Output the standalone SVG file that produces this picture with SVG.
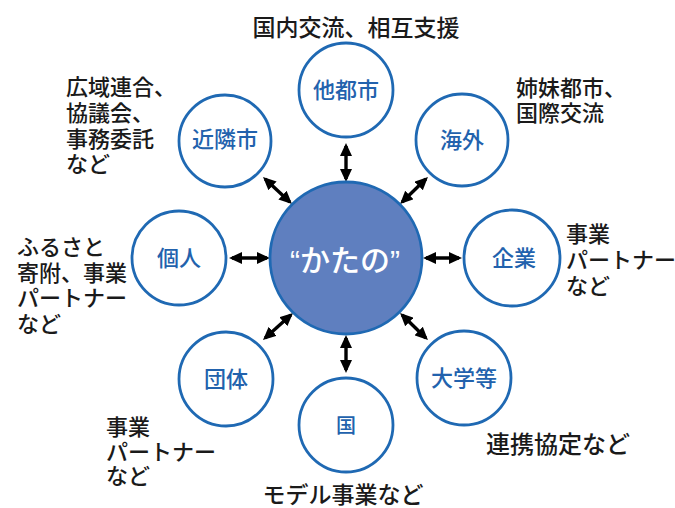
<svg xmlns="http://www.w3.org/2000/svg" width="675" height="508" viewBox="0 0 675 508">
<defs>
<style>
.node{fill:#ffffff;stroke:#1f69b3;stroke-width:2.8}
.hub{fill:#5f7fbf;stroke:#1f69b3;stroke-width:2.8}
.nl{font-family:"Noto Sans CJK JP",sans-serif;font-size:22px;font-weight:500;fill:#2262ad;text-anchor:middle}
.hl{font-family:"Liberation Sans","Noto Sans CJK JP",sans-serif;font-size:30px;font-weight:500;fill:#ffffff;text-anchor:middle}
.ext{font-family:"Liberation Sans","Noto Sans CJK JP",sans-serif;font-size:22px;font-weight:500;fill:#1a1a1a}
.arr{stroke:#000000;stroke-width:3.4;fill:none;marker-start:url(#ah);marker-end:url(#ah)}
</style>
<marker id="ah" markerUnits="userSpaceOnUse" markerWidth="13" markerHeight="12" refX="10" refY="6" orient="auto-start-reverse">
<path d="M0,0 L13,6 L0,12 Z" fill="#000000"/>
</marker>
</defs>
<rect width="675" height="508" fill="#ffffff"/>
<g id="connectors">
<line class="arr" x1="346" y1="146" x2="346" y2="179"/>
<line class="arr" x1="346" y1="338" x2="346" y2="370"/>
<line class="arr" x1="232" y1="258" x2="267" y2="258"/>
<line class="arr" x1="426" y1="258" x2="459" y2="258"/>
<line class="arr" x1="265.2" y1="179" x2="289.8" y2="202"/>
<line class="arr" x1="425.8" y1="179" x2="402.2" y2="202"/>
<line class="arr" x1="290.8" y1="315" x2="265.2" y2="338"/>
<line class="arr" x1="402.2" y1="315" x2="425.8" y2="338"/>
</g>
<g id="hub">
<circle class="hub" cx="346" cy="258" r="76"/>
<text class="hl" x="345" y="271">“かたの”</text>
</g>
<g id="n-tatoshi">
<circle class="node" cx="346" cy="90" r="47"/>
<text class="nl" x="346" y="98">他都市</text>
</g>
<g id="n-kaigai">
<circle class="node" cx="462" cy="140" r="46"/>
<text class="nl" x="462" y="148">海外</text>
</g>
<g id="n-kinrin">
<circle class="node" cx="225" cy="141" r="46"/>
<text class="nl" x="225" y="147">近隣市</text>
</g>
<g id="n-kojin">
<circle class="node" cx="179" cy="258" r="47"/>
<text class="nl" x="179" y="266">個人</text>
</g>
<g id="n-kigyo">
<circle class="node" cx="512" cy="258" r="48"/>
<text class="nl" x="514" y="266">企業</text>
</g>
<g id="n-dantai">
<circle class="node" cx="226" cy="379" r="47"/>
<text class="nl" x="226" y="387">団体</text>
</g>
<g id="n-kuni">
<circle class="node" cx="346" cy="425" r="47"/>
<text class="nl" x="346" y="433" style="font-size:20px">国</text>
</g>
<g id="n-daigaku">
<circle class="node" cx="464" cy="378" r="47"/>
<text class="nl" x="464" y="386">大学等</text>
</g>
<g id="labels">
<text class="ext" x="356" y="36" style="font-size:23px;text-anchor:middle">国内交流、相互支援</text>
<text class="ext" x="343" y="503" style="font-size:23px;text-anchor:middle">モデル事業など</text>
<text class="ext" x="486" y="453" style="font-size:24px">連携協定など</text>
<text class="ext" x="66"><tspan x="66" y="95">広域連合、</tspan><tspan x="66" y="121">協議会、</tspan><tspan x="66" y="147">事務委託</tspan><tspan x="66" y="172">など</tspan></text>
<text class="ext" x="17"><tspan x="17" y="255">ふるさと</tspan><tspan x="17" y="281">寄附、事業</tspan><tspan x="17" y="306">パートナー</tspan><tspan x="17" y="332">など</tspan></text>
<text class="ext" x="106"><tspan x="106" y="435">事業</tspan><tspan x="106" y="460">パートナー</tspan><tspan x="106" y="484">など</tspan></text>
<text class="ext" x="516"><tspan x="516" y="96">姉妹都市、</tspan><tspan x="516" y="121">国際交流</tspan></text>
<text class="ext" x="566"><tspan x="566" y="242">事業</tspan><tspan x="566" y="268">パートナー</tspan><tspan x="566" y="294">など</tspan></text>
</g>
</svg>
